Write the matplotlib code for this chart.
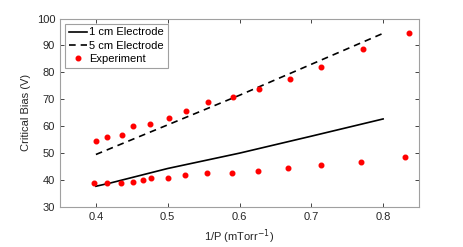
import matplotlib.pyplot as plt
import numpy as np

# model curves
x_1cm = [0.40, 0.42, 0.50, 0.60, 0.70, 0.80]
bias_1cm = [37.7, 38.9, 44.3, 50.0, 56.3, 62.7]
x_5cm = [0.40, 0.60, 0.80]
bias_5cm = [49.5, 71.5, 94.5]

# measured points
x_exp = [0.400, 0.415, 0.436, 0.452, 0.476, 0.502, 0.525, 0.556, 0.591,
         0.627, 0.671, 0.713, 0.772, 0.836]
bias_exp_5cm = [54.5, 56.0, 56.9, 60.0, 60.7, 63.1, 65.8, 69.0, 70.8,
                73.9, 77.7, 81.9, 88.7, 94.7]
x_exp_1cm = [0.398, 0.415, 0.435, 0.452, 0.466, 0.477, 0.501, 0.524, 0.555,
             0.589, 0.626, 0.667, 0.714, 0.769, 0.831]
bias_exp_1cm = [38.8, 38.8, 38.8, 39.4, 40.2, 40.8, 40.8, 41.8, 42.6,
                42.6, 43.5, 44.5, 45.6, 46.6, 48.5]

plt.rcParams['font.family'] = ['Liberation Sans', 'DejaVu Sans']
plt.rcParams['font.size'] = 8

fig = plt.figure(figsize=(4.63, 2.47), dpi=100)
ax = fig.add_axes([0.1296, 0.162, 0.7754, 0.763])

ax.plot(x_1cm, bias_1cm, color='k', lw=1.2, label='1 cm Electrode')
ax.plot(x_5cm, bias_5cm, color='k', lw=1.2, ls=(0, (4, 3)), label='5 cm Electrode')
ax.plot(x_exp, bias_exp_5cm, 'o', color='red', ms=3.3, label='Experiment')
ax.plot(x_exp_1cm, bias_exp_1cm, 'o', color='red', ms=3.3)

ax.set_xlim(0.35, 0.85)
ax.set_ylim(30, 100)
ax.set_xticks(np.arange(0.4, 0.81, 0.1))
ax.set_yticks(np.arange(30, 101, 10))
ax.tick_params(direction='in', top=True, right=True, length=3, width=0.6,
               colors='#262626', labelcolor='#262626')
for s in ax.spines.values():
    s.set_color('#a0a0a0')
    s.set_linewidth(0.8)

ax.set_xlabel(r'1/P (mTorr$^{-1}$)', color='#262626')
ax.set_ylabel('Critical Bias (V)', color='#262626')

leg = ax.legend(loc='upper left', fancybox=False, framealpha=1,
                edgecolor='#a0a0a0', handlelength=1.6, handletextpad=0.2,
                borderpad=0.35, labelspacing=0.3, borderaxespad=0.45)
leg.get_frame().set_linewidth(0.8)

fig.savefig('out.png', dpi=100)
